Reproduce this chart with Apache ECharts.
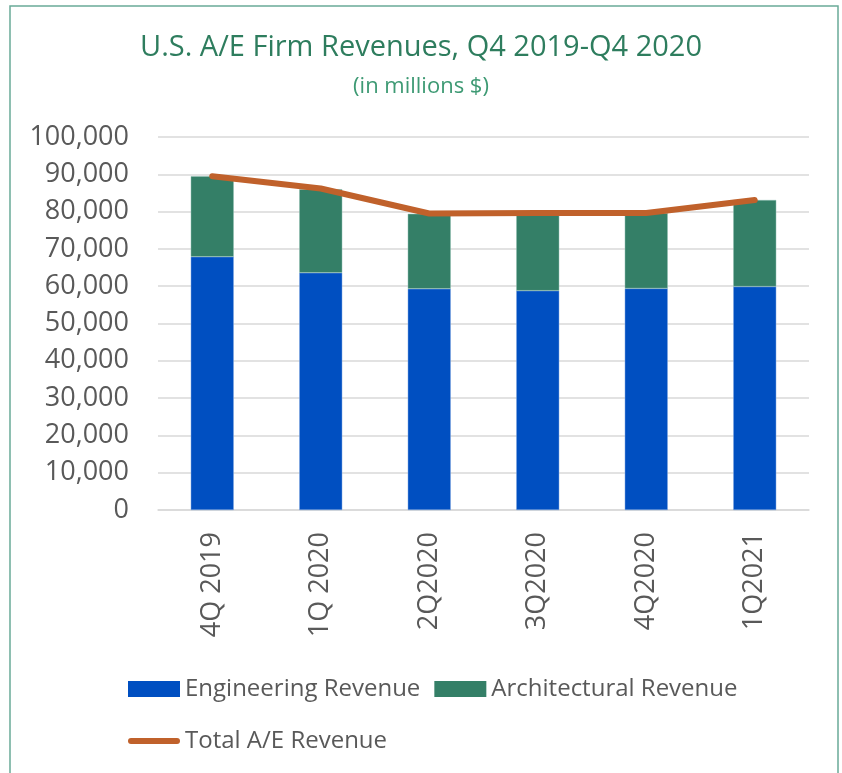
<!DOCTYPE html>
<html>
<head>
<meta charset="utf-8">
<script src="https://cdn.jsdelivr.net/npm/echarts@6/dist/echarts.min.js"></script>
<style>
  html, body { margin: 0; padding: 0; background: #fff; }
  #chart { width: 842px; height: 773px; }
</style>
</head>
<body>
<div id="chart"></div>
<script>
const quarters = ["4Q 2019", "1Q 2020", "2Q2020", "3Q2020", "4Q2020", "1Q2021"];
const engineeringRevenue = [67900, 63600, 59300, 58800, 59400, 59900];
const architecturalRevenue = [21600, 22400, 20100, 20800, 20200, 23200];
const totalRevenue = [89500, 86200, 79500, 79600, 79600, 83100];

const fontFamily = "'Open Sans', sans-serif";
const labelColor = "#595959";

const chart = echarts.init(document.getElementById("chart"));

chart.setOption({
  animation: false,
  textStyle: { fontFamily },
  title: {
    text: "U.S. A/E Firm Revenues, Q4 2019-Q4 2020",
    subtext: "(in millions $)",
    left: "center",
    top: 28,
    itemGap: 14,
    textStyle: { fontSize: 29, fontWeight: "normal", color: "#2E7D5E", fontFamily },
    subtextStyle: { fontSize: 22, color: "#3E9A74", fontFamily },
  },
  graphic: [
    {
      type: "rect",
      shape: { x: 10, y: 6, width: 828, height: 800 },
      style: { fill: null, stroke: "#6AAA98", lineWidth: 1.5 },
      silent: true,
    },
  ],
  legend: {
    left: 123,
    top: 665,
    width: 660,
    itemWidth: 52,
    itemHeight: 16,
    itemGap: 14,
    textStyle: { fontSize: 24, color: labelColor, lineHeight: 38, fontFamily },
    data: [
      { name: "Engineering Revenue", icon: "rect", itemStyle: { borderWidth: 0 } },
      { name: "Architectural Revenue", icon: "rect", itemStyle: { borderWidth: 0 } },
      { name: "Total A/E Revenue", icon: "path://M3,0 L49,0 A3,3 0 0 1 49,6 L3,6 A3,3 0 0 1 3,0 Z" },
    ],
  },
  grid: { left: 158, right: 33, top: 137, bottom: 263 },
  xAxis: {
    type: "category",
    data: quarters,
    axisTick: { show: false },
    axisLine: { lineStyle: { color: "#D9D9D9", width: 1.5 } },
    axisLabel: {
      rotate: 90,
      margin: 22,
      fontSize: 27,
      color: labelColor,
      fontFamily,
    },
  },
  yAxis: {
    type: "value",
    min: 0,
    max: 100000,
    interval: 10000,
    axisLine: { show: false },
    axisTick: { show: false },
    splitLine: { lineStyle: { color: "#D9D9D9", width: 1.5 } },
    axisLabel: {
      margin: 29,
      fontSize: 27,
      color: labelColor,
      fontFamily,
      formatter: (v) => v.toLocaleString("en-US"),
    },
  },
  series: [
    {
      name: "Engineering Revenue",
      type: "bar",
      stack: "rev",
      data: engineeringRevenue,
      barWidth: 43,
      itemStyle: { color: "#004FC1", borderColor: "#7FA6E0", borderWidth: 0.5 },
    },
    {
      name: "Architectural Revenue",
      type: "bar",
      stack: "rev",
      data: architecturalRevenue,
      barWidth: 43,
      itemStyle: { color: "#347F67", borderColor: "#8FBFB0", borderWidth: 0.5 },
    },
    {
      name: "Total A/E Revenue",
      type: "line",
      data: totalRevenue,
      symbol: "none",
      lineStyle: { color: "#C0612B", width: 6, cap: "round" },
      itemStyle: { color: "#C0612B" },
      z: 5,
    },
  ],
});
</script>
</body>
</html>
